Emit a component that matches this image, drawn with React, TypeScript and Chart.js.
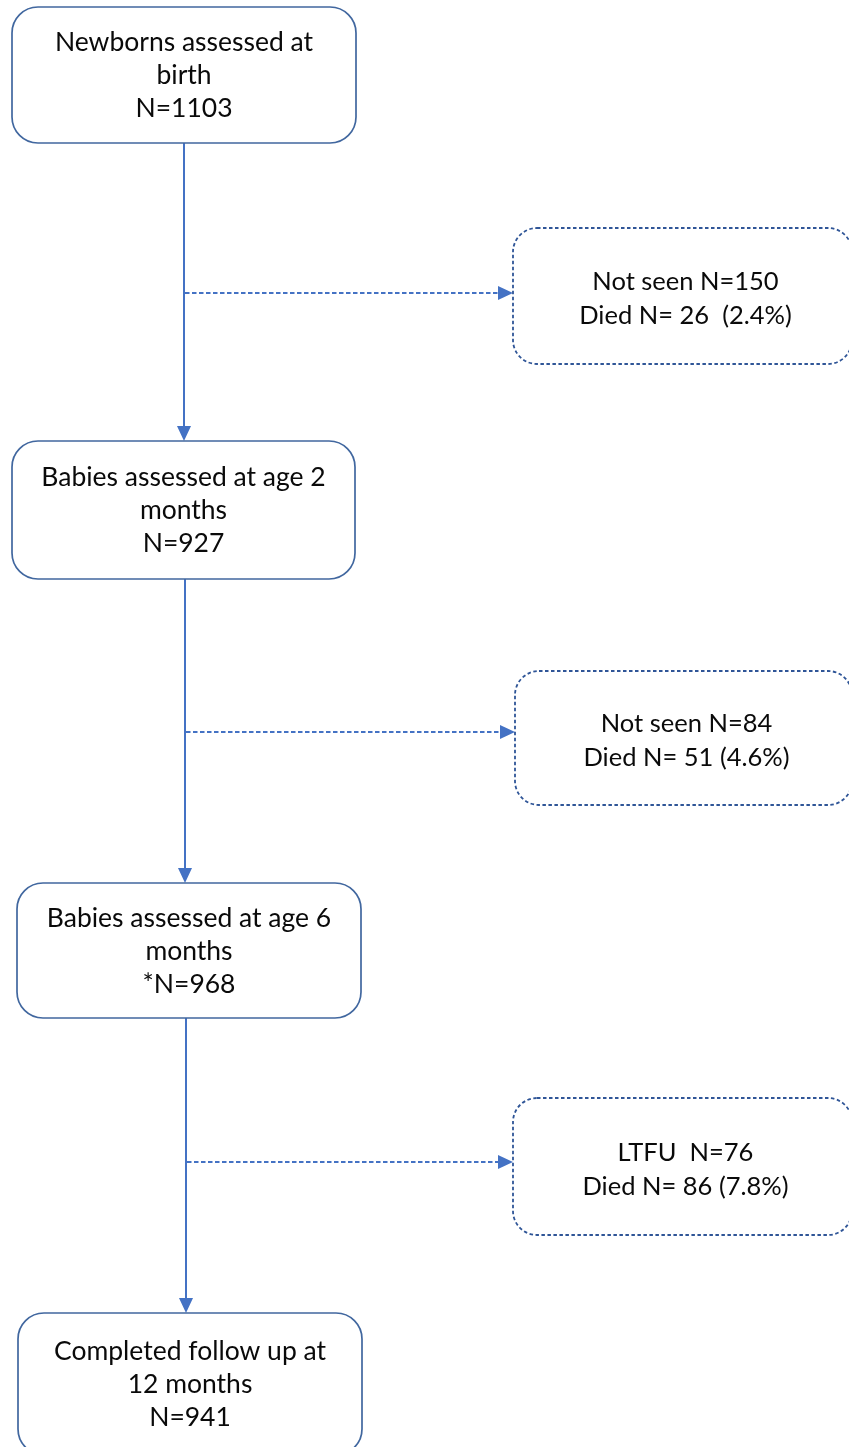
import React, { useEffect, useRef } from "react";
import { Chart, registerables } from "chart.js";

Chart.register(...registerables);

// ---- data ----
const stageTitles: string[][] = [
  ["Newborns assessed at", "birth"],
  ["Babies assessed at age 2", "months"],
  ["Babies assessed at age 6", "months"],
  ["Completed follow up at", "12 months"],
];
const stageCounts: string[] = ["N=1103", "N=927", "*N=968", "N=941"];
const lossFirstLines: string[] = ["Not seen N=150", "Not seen N=84", "LTFU  N=76"];
const lossDiedLines: string[] = ["Died N= 26  (2.4%)", "Died N= 51 (4.6%)", "Died N= 86 (7.8%)"];

// ---- layout (data units of the hidden linear scales) ----
const W = 849;
const H = 1447;
const stageBoxes: number[][] = [
  [12, 7, 356, 143],
  [12, 441, 355, 579],
  [17, 883, 361, 1018],
  [18, 1313, 362, 1455],
];
const lossBoxes: number[][] = [
  [513, 228, 852, 364],
  [515, 671, 852, 805],
  [513, 1098, 852, 1235],
];
const spineX: number[] = [184, 185, 186];
const branchY: number[] = [293, 732, 1162];

const SOLID_LINE = "#4472C4";
const BOX_LINE = "#41679F";
const DASH_BOX_LINE = "#2F5597";
const TEXT = "#0a0a0a";
const FONT_MAIN = "26.5px Lato";
const FONT_LOSS = "25.5px Lato";
const ARROW_LEN = 15;
const ARROW_HALF = 7;

function roundRectPath(ctx: CanvasRenderingContext2D, x0: number, y0: number, x1: number, y1: number, r: number) {
  ctx.beginPath();
  ctx.moveTo(x0 + r, y0);
  ctx.lineTo(x1 - r, y0);
  ctx.arcTo(x1, y0, x1, y0 + r, r);
  ctx.lineTo(x1, y1 - r);
  ctx.arcTo(x1, y1, x1 - r, y1, r);
  ctx.lineTo(x0 + r, y1);
  ctx.arcTo(x0, y1, x0, y1 - r, r);
  ctx.lineTo(x0, y0 + r);
  ctx.arcTo(x0, y0, x0 + r, y0, r);
  ctx.closePath();
}

const flowPlugin = {
  id: "flow",
  afterDatasetsDraw(chart: any) {
    const ctx: CanvasRenderingContext2D = chart.ctx;
    const xs = chart.scales.x;
    const ys = chart.scales.y;
    const px = (v: number) => xs.getPixelForValue(v);
    const py = (v: number) => ys.getPixelForValue(v);
    ctx.save();

    // arrowheads (down)
    for (let i = 0; i < spineX.length; i++) {
      const tx = px(spineX[i]);
      const ty = py(stageBoxes[i + 1][1]);
      ctx.fillStyle = SOLID_LINE;
      ctx.beginPath();
      ctx.moveTo(tx, ty);
      ctx.lineTo(tx - ARROW_HALF, ty - ARROW_LEN);
      ctx.lineTo(tx + ARROW_HALF, ty - ARROW_LEN);
      ctx.closePath();
      ctx.fill();
    }
    // arrowheads (right)
    for (let i = 0; i < branchY.length; i++) {
      const tx = px(lossBoxes[i][0]);
      const ty = py(branchY[i]);
      ctx.fillStyle = SOLID_LINE;
      ctx.beginPath();
      ctx.moveTo(tx, ty);
      ctx.lineTo(tx - ARROW_LEN, ty - ARROW_HALF);
      ctx.lineTo(tx - ARROW_LEN, ty + ARROW_HALF);
      ctx.closePath();
      ctx.fill();
    }

    ctx.textAlign = "center";
    ctx.textBaseline = "alphabetic";

    // stage boxes
    ctx.font = FONT_MAIN;
    stageBoxes.forEach((b, i) => {
      const x0 = px(b[0]), y0 = py(b[1]), x1 = px(b[2]), y1 = py(b[3]);
      ctx.setLineDash([]);
      ctx.lineWidth = 1.7;
      ctx.strokeStyle = BOX_LINE;
      roundRectPath(ctx, x0, y0, x1, y1, 26);
      ctx.stroke();
      const lines = [...stageTitles[i], stageCounts[i]];
      const cx = (x0 + x1) / 2;
      const cy = (y0 + y1) / 2;
      const gap = 33;
      ctx.fillStyle = TEXT;
      lines.forEach((t, k) => {
        const c = cy + (k - (lines.length - 1) / 2) * gap;
        ctx.fillText(t, cx, c + 9.3);
      });
    });

    // loss boxes
    ctx.font = FONT_LOSS;
    lossBoxes.forEach((b, i) => {
      const x0 = px(b[0]), y0 = py(b[1]), x1 = px(b[2]), y1 = py(b[3]);
      ctx.setLineDash([3.5, 2.5]);
      ctx.lineWidth = 1.8;
      ctx.strokeStyle = DASH_BOX_LINE;
      roundRectPath(ctx, x0, y0, x1, y1, 24);
      ctx.stroke();
      const lines = [lossFirstLines[i], lossDiedLines[i]];
      const cx = (x0 + x1) / 2 + 3;
      const cy = (y0 + y1) / 2 + 2;
      const gap = 34;
      ctx.fillStyle = TEXT;
      lines.forEach((t, k) => {
        const c = cy + (k - 0.5) * gap;
        ctx.fillText(t, cx, c + 9);
      });
    });
    ctx.restore();
  },
};

export default function App() {
  const ref = useRef<HTMLCanvasElement | null>(null);
  useEffect(() => {
    if (!ref.current) return;
    const datasets: any[] = [];
    for (let i = 0; i < spineX.length; i++) {
      datasets.push({
        data: [
          { x: spineX[i], y: stageBoxes[i][3] },
          { x: spineX[i], y: stageBoxes[i + 1][1] - ARROW_LEN + 1 },
        ],
        showLine: true,
        borderColor: SOLID_LINE,
        borderWidth: 2,
        pointRadius: 0,
      });
    }
    for (let i = 0; i < branchY.length; i++) {
      datasets.push({
        data: [
          { x: spineX[i] + 1, y: branchY[i] },
          { x: lossBoxes[i][0] - ARROW_LEN + 1, y: branchY[i] },
        ],
        showLine: true,
        borderColor: SOLID_LINE,
        borderWidth: 2.2,
        borderDash: [4.5, 2.5],
        pointRadius: 0,
      });
    }
    const chart = new Chart(ref.current, {
      type: "scatter",
      data: { datasets },
      options: {
        animation: false,
        responsive: false,
        events: [],
        layout: { padding: 0 },
        plugins: { legend: { display: false }, tooltip: { enabled: false } },
        scales: {
          x: { type: "linear", min: 0, max: W, display: false },
          y: { type: "linear", min: 0, max: H, reverse: true, display: false },
        },
      },
      plugins: [flowPlugin],
    } as any);
    return () => chart.destroy();
  }, []);
  return (
    <div style={{ position: "fixed", left: 0, top: 0, width: W, height: H, background: "#fff" }}>
      <canvas ref={ref} width={W} height={H} style={{ display: "block" }} />
    </div>
  );
}
